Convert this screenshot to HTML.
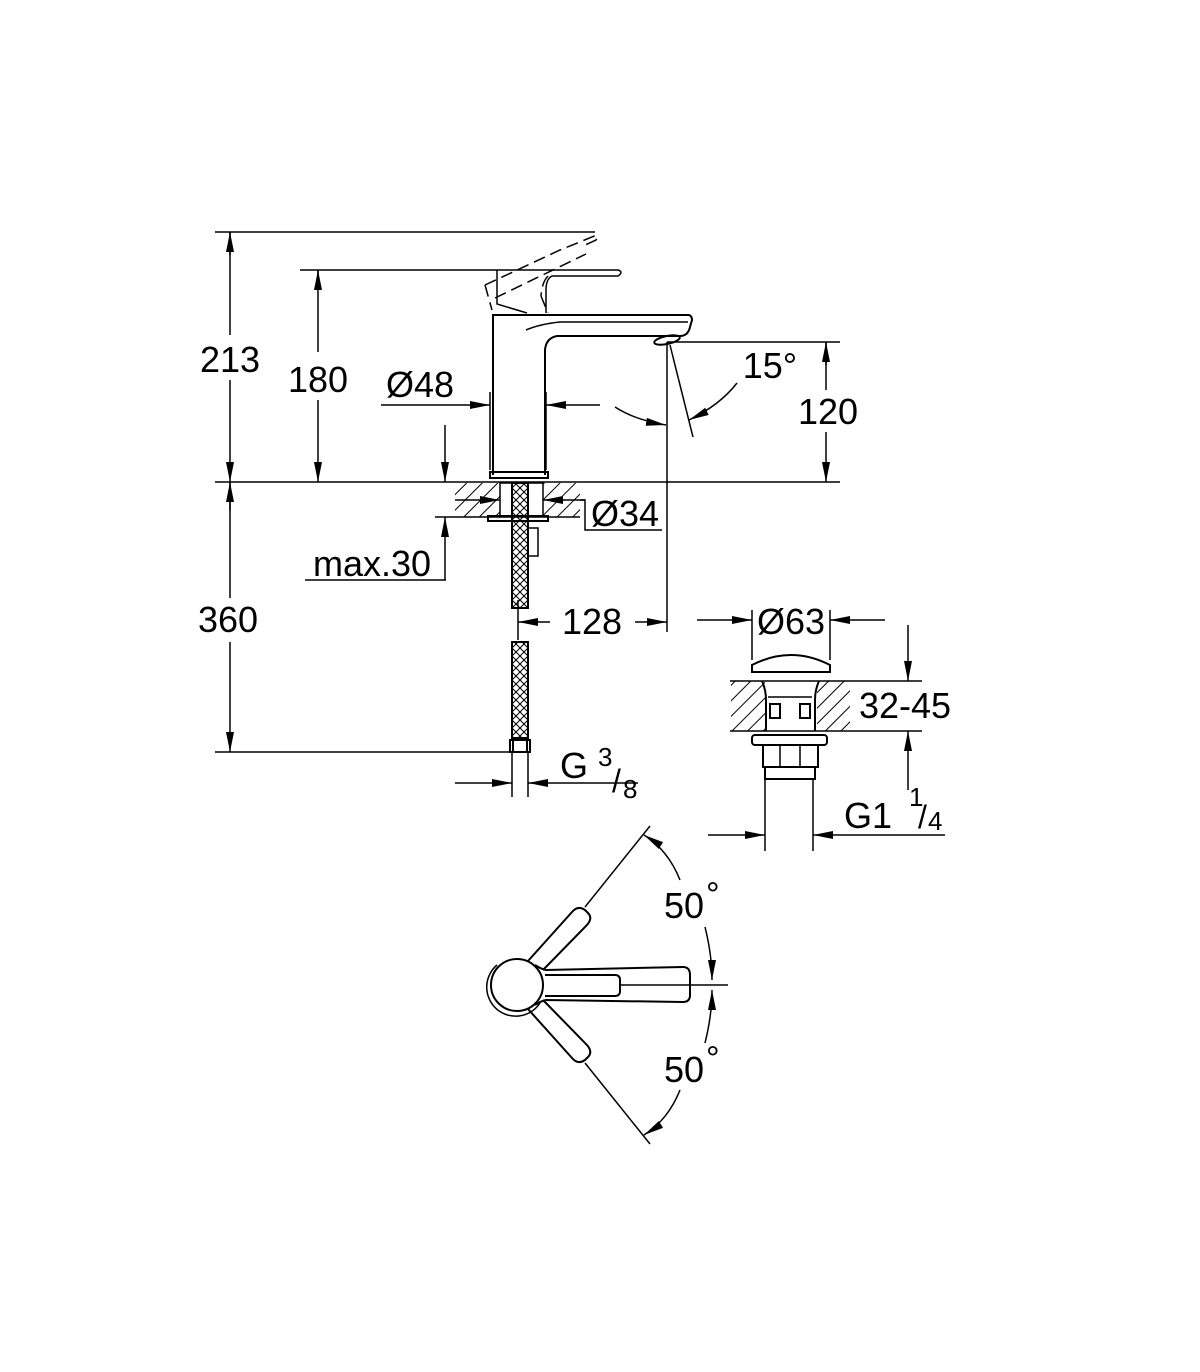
<!DOCTYPE html>
<html><head><meta charset="utf-8"><style>
html,body{margin:0;padding:0;background:#fff;}
svg{display:block}
text{font-family:"Liberation Sans",sans-serif;fill:#000;}
</style></head><body>
<svg width="1200" height="1372" viewBox="0 0 1200 1372" xmlns="http://www.w3.org/2000/svg">
<defs>
<marker id="a" viewBox="0 0 20 8" refX="20" refY="4" markerWidth="20" markerHeight="8" markerUnits="userSpaceOnUse" orient="auto"><path d="M0,0 L20,4 L0,8 z" fill="#000"/></marker>
<pattern id="h" width="11" height="11" patternUnits="userSpaceOnUse" patternTransform="rotate(45)"><line x1="0" y1="0" x2="0" y2="11" stroke="#000" stroke-width="2"/></pattern>
<pattern id="x" width="8" height="8" patternUnits="userSpaceOnUse"><path d="M0,0 L8,8 M8,0 L0,8" stroke="#000" stroke-width="1"/></pattern>
</defs>
<g stroke="#000" fill="none" stroke-width="1.5">
<line x1="215" y1="232" x2="595" y2="232"/>
<line x1="300" y1="270" x2="497" y2="270"/>
<line x1="215" y1="482" x2="840" y2="482"/>
<line x1="230" y1="232" x2="230" y2="335"/><line x1="230" y1="380" x2="230" y2="482" marker-end="url(#a)"/>
<line x1="230" y1="255" x2="230" y2="232" marker-end="url(#a)"/>
<line x1="318" y1="290" x2="318" y2="270" marker-end="url(#a)"/><line x1="318" y1="270" x2="318" y2="352"/>
<line x1="318" y1="400" x2="318" y2="482" marker-end="url(#a)"/>
<line x1="230" y1="482" x2="230" y2="598"/><line x1="230" y1="510" x2="230" y2="482" marker-end="url(#a)"/>
<line x1="230" y1="642" x2="230" y2="752" marker-end="url(#a)"/>
<line x1="215" y1="752" x2="512" y2="752"/>
<path d="M485,285 L560,250 L592,237 Q600,233 596,240 L585,245 M495,298 L586,254 M485,285 L492,310 M541,296 L548,313 M548,276 Q542,282 541,296" stroke-dasharray="12,6"/>
<path d="M497,270 L618,270 Q624,272 618,276 L552,276 Q546,279 546,290 L546,313 M497,270 L497,304 L527,313"/>
<path d="M493,475 L493,315 L689,315 Q692,316 692,320 L690,327 Q688,336 680,336 L557,336 Q546,338 545,350 L545,475" stroke-width="2"/>
<path d="M526,330 Q540,324 560,322 L688,322"/>
<ellipse cx="667" cy="340" rx="13" ry="4" transform="rotate(-12 667 340)" stroke-width="2"/>
<path d="M490,472 L548,472 L548,478 L490,478 z" stroke-width="2"/>
<line x1="490" y1="392" x2="490" y2="470"/><line x1="546" y1="392" x2="546" y2="470"/>
<line x1="381" y1="405" x2="490" y2="405" marker-end="url(#a)"/>
<line x1="600" y1="405" x2="546" y2="405" marker-end="url(#a)"/>
<line x1="667" y1="342" x2="840" y2="342"/>
<line x1="667" y1="342" x2="667" y2="632"/>
<line x1="670" y1="345" x2="693" y2="437"/>
<path d="M615,407 Q635,420 666,425" marker-end="url(#a)"/>
<path d="M737,383 Q720,405 689,420" marker-end="url(#a)"/>
<line x1="826" y1="365" x2="826" y2="342" marker-end="url(#a)"/><line x1="826" y1="342" x2="826" y2="390"/>
<line x1="826" y1="432" x2="826" y2="482" marker-end="url(#a)"/>
<line x1="445" y1="425" x2="445" y2="482" marker-end="url(#a)"/>
<line x1="445" y1="580" x2="445" y2="517" marker-end="url(#a)"/>
<line x1="305" y1="580" x2="446" y2="580"/>
<rect x="455" y="483" width="45" height="34" fill="url(#h)" stroke="none"/>
<rect x="543" y="483" width="37" height="34" fill="url(#h)" stroke="none"/>
<line x1="435" y1="517" x2="580" y2="517"/>
<rect x="500" y="483" width="43" height="33" fill="#fff"/>
<rect x="488" y="516" width="60" height="5" stroke-width="2"/>
<rect x="512" y="483" width="16" height="125" fill="url(#x)" stroke-width="2"/>
<rect x="528" y="528" width="10" height="28" stroke-width="1.5"/>
<line x1="455" y1="500" x2="500" y2="500" marker-end="url(#a)"/>
<line x1="585" y1="500" x2="543" y2="500" marker-end="url(#a)"/>
<polyline points="580,500 585,500 585,530 662,530"/>
<line x1="518" y1="600" x2="518" y2="640"/>
<line x1="550" y1="622" x2="518" y2="622" marker-end="url(#a)"/>
<line x1="635" y1="622" x2="667" y2="622" marker-end="url(#a)"/>
<rect x="512" y="642" width="16" height="96" fill="url(#x)" stroke-width="2"/>
<rect x="513" y="738" width="14" height="14" stroke-width="2"/>
<rect x="510" y="740" width="20" height="12" stroke-width="2"/>
<line x1="512" y1="752" x2="512" y2="797"/><line x1="528" y1="752" x2="528" y2="797"/>
<line x1="455" y1="783" x2="512" y2="783" marker-end="url(#a)"/>
<line x1="638" y1="783" x2="528" y2="783" marker-end="url(#a)"/>
<line x1="752" y1="610" x2="752" y2="660"/><line x1="830" y1="610" x2="830" y2="660"/>
<line x1="697" y1="620" x2="752" y2="620" marker-end="url(#a)"/>
<line x1="885" y1="620" x2="830" y2="620" marker-end="url(#a)"/>
<path d="M752,672 L752,665 Q791,645 830,665 L830,672 z" stroke-width="2"/>
<rect x="731" y="681" width="34" height="50" fill="url(#h)" stroke="none"/>
<rect x="817" y="681" width="33" height="50" fill="url(#h)" stroke="none"/>
<line x1="730" y1="681" x2="922" y2="681"/><line x1="730" y1="731" x2="922" y2="731"/>
<path d="M762,681 Q766,690 766,700 L766,731 M819,681 Q815,690 815,700 L815,731" stroke-width="2"/>
<rect x="770" y="704" width="10" height="14" stroke-width="2"/><rect x="800" y="704" width="10" height="14" stroke-width="2"/>
<line x1="768" y1="697" x2="812" y2="697"/>
<rect x="752" y="735" width="75" height="10" rx="3" stroke-width="2"/>
<rect x="763" y="745" width="55" height="22" stroke-width="2"/>
<line x1="780" y1="745" x2="780" y2="767"/><line x1="800" y1="745" x2="800" y2="767"/>
<rect x="765" y="767" width="50" height="12" stroke-width="2"/>
<line x1="765" y1="779" x2="765" y2="851"/><line x1="813" y1="779" x2="813" y2="851"/>
<line x1="908" y1="625" x2="908" y2="681" marker-end="url(#a)"/>
<line x1="908" y1="790" x2="908" y2="731" marker-end="url(#a)"/>
<line x1="708" y1="835" x2="765" y2="835" marker-end="url(#a)"/>
<line x1="945" y1="835" x2="813" y2="835" marker-end="url(#a)"/>
<circle cx="517" cy="985" r="26" stroke-width="2"/>
<path d="M497,965 A29,29 0 1 0 540,1003" stroke-width="1.5"/>
<path d="M535,965 Q541,969 546,970 L683,967 Q690,967 690,975 L690,995 Q690,1002 683,1002 L546,1000 Q541,1001 535,1005" stroke-width="2"/>
<path d="M545,975 L615,975 Q620,975 620,980 L620,991 Q620,996 615,996 L545,996" stroke-width="2"/>
<line x1="620" y1="985" x2="728" y2="985"/>
<path d="M528,961 L572,912 Q578,905 585,910 L588,913 Q593,918 587,925 L543,970" stroke-width="2"/>
<path d="M528,1009 L572,1058 Q578,1065 585,1060 L588,1057 Q593,1052 587,1045 L543,1000" stroke-width="2"/>
<line x1="585" y1="907" x2="650" y2="826"/>
<line x1="585" y1="1063" x2="650" y2="1144"/>
<path d="M680,880 Q668,850 644,835" marker-end="url(#a)"/>
<path d="M705,927 Q712,955 712,980" marker-end="url(#a)"/>
<path d="M705,1043 Q712,1015 712,990" marker-end="url(#a)"/>
<path d="M680,1090 Q668,1120 644,1135" marker-end="url(#a)"/>
</g>
<g font-size="36">
<text x="230" y="372" text-anchor="middle">213</text>
<text x="318" y="392" text-anchor="middle">180</text>
<text x="420" y="397" text-anchor="middle">Ø48</text>
<text x="770" y="378" text-anchor="middle">15°</text>
<text x="828" y="424" text-anchor="middle">120</text>
<text x="625" y="526" text-anchor="middle">Ø34</text>
<text x="372" y="576" text-anchor="middle">max.30</text>
<text x="592" y="634" text-anchor="middle">128</text>
<text x="228" y="632" text-anchor="middle">360</text>
<text x="791" y="634" text-anchor="middle">Ø63</text>
<text x="905" y="718" text-anchor="middle">32-45</text>
<text x="560" y="778">G</text>
<text x="598" y="766" font-size="26">3</text>
<text x="612" y="792" font-size="32">/</text>
<text x="623" y="798" font-size="26">8</text>
<text x="844" y="828">G1</text>
<text x="909" y="806" font-size="26">1</text>
<text x="918" y="828" font-size="32">/</text>
<text x="928" y="830" font-size="26">4</text>
<text x="664" y="918">50</text>
<text x="706" y="906" font-size="34">°</text>
<text x="664" y="1082">50</text>
<text x="706" y="1070" font-size="34">°</text>
</g>
</svg>
</body></html>
